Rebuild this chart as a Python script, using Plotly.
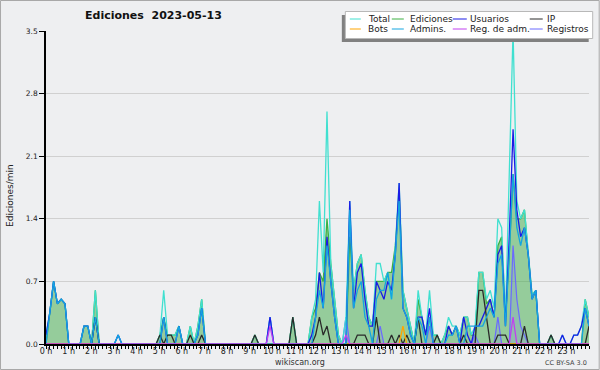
import plotly.graph_objects as go

# ---- data: 144 ten-minute bins, edits per minute ----
total = [
    .1, .35, .7, .45, .5, .45, 0, 0, 0, 0, .2, .2,
    0, .6, 0, 0, 0, 0, 0, .1, 0, 0, 0, 0,
    0, 0, 0, 0, 0, 0, .1, .6, .1, .1, .1, .2,
    0, 0, .2, 0, .2, .5, 0, 0, 0, 0, 0, 0,
    0, 0, 0, 0, 0, 0, 0, .1, 0, 0, 0, .3,
    0, 0, 0, 0, 0, .3, 0, 0, 0, 0, .3, .5,
    1.6, .8, 2.6, .9, .5, .1, 0, .3, 1.6, .6, .9, 1.0,
    .6, .3, .2, .9, .9, .7, .8, .5, 1.1, 1.8, .6, .4,
    .2, 0, .6, .3, .1, .6, .1, .1, 0, .1, .3, .2,
    .2, .1, .3, .3, .1, .2, .8, .8, .5, .6, .4, 1.4,
    1.3, .3, 1.9, 3.5, 1.6, 1.4, 1.5, 1.0, .55, .6, 0, 0,
    0, .1, 0, 0, .1, 0, 0, .1, .1, .2, .5, .3,
]
ediciones = [
    0, .35, .7, .45, .5, .45, 0, 0, 0, 0, .2, .2,
    0, .6, 0, 0, 0, 0, 0, 0, 0, 0, 0, 0,
    0, 0, 0, 0, 0, 0, .1, .3, .1, .1, .1, .2,
    0, 0, .2, 0, .2, .5, 0, 0, 0, 0, 0, 0,
    0, 0, 0, 0, 0, 0, 0, .1, 0, 0, 0, 0,
    0, 0, 0, 0, 0, .3, 0, 0, 0, 0, .3, .4,
    .8, .7, 1.4, .9, .5, .1, 0, 0, 1.2, .6, .9, 1.0,
    .6, .3, .2, .7, .7, .7, .8, .8, 1.1, 1.7, .6, .4,
    .2, 0, .5, .3, .1, .3, .1, .1, 0, .1, .2, .1,
    .2, .1, .3, .3, .1, .1, .8, .8, .45, .5, .3, 1.1,
    1.2, .3, 1.0, 1.9, 1.4, 1.4, 1.5, 1.0, .55, .6, 0, 0,
    0, .1, 0, 0, 0, 0, 0, 0, 0, 0, .5, .3,
]
usuarios = [
    .1, .35, .7, .45, .5, .45, 0, 0, 0, 0, .2, .2,
    0, .3, 0, 0, 0, 0, 0, .1, 0, 0, 0, 0,
    0, 0, 0, 0, 0, 0, 0, .3, 0, 0, 0, .2,
    0, 0, 0, 0, .1, .4, 0, 0, 0, 0, 0, 0,
    0, 0, 0, 0, 0, 0, 0, 0, 0, 0, 0, .3,
    0, 0, 0, 0, 0, 0, 0, 0, 0, 0, .1, .3,
    .8, .4, 1.2, .7, .3, 0, 0, 0, 1.6, .4, .8, .9,
    .5, .2, .2, .7, .6, .5, .7, .6, 1.0, 1.8, .4, .3,
    .1, 0, .3, .3, .1, .4, 0, 0, 0, 0, .2, .1,
    .2, 0, .3, .1, 0, .2, .2, .3, .4, .5, .3, 1.0,
    1.1, .2, 1.2, 2.4, 1.5, 1.2, 1.3, 1.0, .5, .6, 0, 0,
    0, 0, 0, 0, .1, 0, 0, .1, .1, .2, .4, .2,
]
ip = [
    0, 0, 0, 0, 0, 0, 0, 0, 0, 0, 0, 0,
    0, .3, 0, 0, 0, 0, 0, 0, 0, 0, 0, 0,
    0, 0, 0, 0, 0, 0, .1, 0, .1, .1, 0, 0,
    0, 0, .1, 0, 0, .1, 0, 0, 0, 0, 0, 0,
    0, 0, 0, 0, 0, 0, 0, .1, 0, 0, 0, 0,
    0, 0, 0, 0, 0, .3, 0, 0, 0, 0, 0, .1,
    .3, .1, .2, 0, 0, 0, 0, 0, 0, 0, .1, .1,
    .1, 0, 0, .3, 0, 0, 0, .1, 0, .1, 0, .1,
    0, 0, .3, 0, 0, 0, 0, .1, 0, 0, 0, 0,
    0, 0, .1, 0, 0, 0, .6, .6, .3, 0, 0, .1,
    .1, .1, 0, 0, 0, 0, .2, 0, 0, 0, 0, 0,
    0, .1, 0, 0, 0, 0, 0, 0, 0, 0, 0, .2,
]
bots = [0] * 94 + [.2] + [0] * 49
admins = [
    0, .35, .7, .45, .5, .45, 0, 0, 0, 0, .2, .2,
    0, .3, 0, 0, 0, 0, 0, .1, 0, 0, 0, 0,
    0, 0, 0, 0, 0, 0, 0, .3, 0, 0, 0, .2,
    0, 0, 0, 0, .1, .4, 0, 0, 0, 0, 0, 0,
    0, 0, 0, 0, 0, 0, 0, 0, 0, 0, 0, 0,
    0, 0, 0, 0, 0, 0, 0, 0, 0, 0, 0, .3,
    .6, .4, 1.1, .7, .3, 0, 0, 0, 1.5, .4, .6, .7,
    .3, .2, 0, .5, .6, .6, .8, .5, 1.0, 1.6, .4, .3,
    .1, 0, .3, .2, 0, .3, 0, 0, 0, 0, .1, .1,
    .2, 0, 0, .2, .2, .2, .2, .2, .3, .4, .3, .9,
    1.0, .2, 1.0, 1.9, 1.3, 1.1, 1.3, 1.0, .5, .6, 0, 0,
    0, 0, 0, 0, 0, 0, 0, 0, 0, 0, .4, .2,
]
reg_adm = [0] * 59 + [.2] + [0] * 19 + [.1] + [0] * 43 + [.3] + [0] * 20
registros = [
    0, 0, 0, 0, 0, 0, 0, 0, 0, 0, 0, 0,
    0, 0, 0, 0, 0, 0, 0, 0, 0, 0, 0, 0,
    0, 0, 0, 0, 0, 0, 0, 0, 0, 0, 0, 0,
    0, 0, 0, 0, 0, 0, 0, 0, 0, 0, 0, 0,
    0, 0, 0, 0, 0, 0, 0, 0, 0, 0, 0, .3,
    0, 0, 0, 0, 0, 0, 0, 0, 0, 0, 0, 0,
    0, 0, 0, 0, 0, 0, 0, .3, 0, 0, 0, 0,
    0, 0, 0, 0, .2, 0, 0, 0, 0, 0, 0, 0,
    0, 0, 0, 0, 0, .2, 0, 0, 0, 0, 0, 0,
    0, 0, 0, 0, 0, .1, 0, 0, 0, 0, 0, .3,
    0, 0, 0, 1.1, .5, .2, .1, 0, 0, 0, 0, 0,
    0, 0, 0, 0, 0, 0, 0, 0, 0, 0, 0, 0,
]
hour_labels = [f"{h} h" for h in range(24)]
y_ticks = [0.0, 0.7, 1.4, 2.1, 2.8, 3.5]

names = ["Total", "Ediciones", "Usuarios", "IP", "Bots", "Admins.", "Reg. de adm.", "Registros"]
colors = ["#40e0d0", "#3cb043", "#1a1ae6", "#2a2a2a", "#ffa500", "#14a5e0", "#c040f0", "#6a6aff"]
series = [total, ediciones, usuarios, ip, bots, admins, reg_adm, registros]

n = len(total)
hours = [i * 24 / (n - 1) for i in range(n)]

fig = go.Figure()
fig.add_trace(go.Scatter(x=hours, y=ediciones, mode="lines", fill="tozeroy",
                         fillcolor="rgba(60,170,70,0.5)",
                         line=dict(color=colors[1], width=1.3), showlegend=False))
fig.add_trace(go.Scatter(x=hours, y=registros, mode="lines", fill="tozeroy",
                         fillcolor="rgba(120,120,255,0.18)",
                         line=dict(color=colors[7], width=1.2), showlegend=False))
for idx in [0, 2, 3, 4, 5, 6]:
    fig.add_trace(go.Scatter(x=hours, y=series[idx], mode="lines",
                             line=dict(color=colors[idx], width=1.3), showlegend=False))

L, R, T, B = 46, 589.3, 31, 344
W, H = R - L, B - T
def xp(px): return (px - L) / W
def yp(py): return (B - py) / H

shapes = []
annotations = []
shapes.append(dict(type="rect", xref="paper", yref="paper",
                   x0=xp(0.5), x1=xp(599.5), y0=yp(369.5), y1=yp(0.5),
                   line=dict(color="#a8a8a8", width=1)))
shapes.append(dict(type="rect", xref="paper", yref="paper",
                   x0=xp(342), x1=xp(589), y0=yp(42), y1=yp(15),
                   fillcolor="#808080", line=dict(width=0), layer="above"))
shapes.append(dict(type="rect", xref="paper", yref="paper",
                   x0=xp(345.5), x1=xp(593), y0=yp(38.5), y1=yp(11.5),
                   fillcolor="white", line=dict(color="#b8b8b8", width=1), layer="above"))
line_x = [(350, 361), (392, 404), (453, 467), (530, 543)]
text_x = [366, 408, 468, 545]
rows_y = [19, 29]
for j, name in enumerate(names):
    r, c = divmod(j, 4)
    y = rows_y[r]
    shapes.append(dict(type="line", xref="paper", yref="paper",
                       x0=xp(line_x[c][0]), x1=xp(line_x[c][1]), y0=yp(y), y1=yp(y),
                       line=dict(color=colors[j], width=1), layer="above"))
    annotations.append(dict(text=name, xref="paper", yref="paper", x=xp(text_x[c]), y=yp(y),
                            xanchor="left", yanchor="middle", showarrow=False,
                            font=dict(family="DejaVu Sans", size=9, color="#222")))

annotations.append(dict(text="Ediciones\u00a0 2023-05-13", xref="paper", yref="paper",
                        x=xp(153.5), y=yp(16), xanchor="center", yanchor="middle", showarrow=False,
                        font=dict(family="DejaVu Sans", size=11, color="#111", weight="bold")))
annotations.append(dict(text="Ediciones/min", xref="paper", yref="paper",
                        x=xp(10), y=yp(196), xanchor="center", yanchor="middle", textangle=-90,
                        showarrow=False, font=dict(family="DejaVu Sans", size=9, color="#222")))
annotations.append(dict(text="wikiscan.org", xref="paper", yref="paper",
                        x=xp(300), y=yp(362), xanchor="center", yanchor="middle", showarrow=False,
                        font=dict(family="DejaVu Sans", size=8, color="#333")))
annotations.append(dict(text="CC BY-SA 3.0", xref="paper", yref="paper",
                        x=xp(589), y=yp(362.5), xanchor="right", yanchor="middle", showarrow=False,
                        font=dict(family="DejaVu Sans", size=6.5, color="#444")))

fig.update_layout(
    width=600, height=370,
    margin=dict(l=L, r=600 - R, t=T, b=370 - B),
    paper_bgcolor="#eeeff1", plot_bgcolor="#eeeff1",
    shapes=shapes, annotations=annotations,
    xaxis=dict(range=[0, 24], tickmode="array", tickvals=list(range(24)), ticktext=hour_labels,
               ticks="outside", ticklen=3, tickwidth=1, tickcolor="black",
               minor=dict(tickmode="array", tickvals=[i / 6 for i in range(145)],
                          ticks="outside", ticklen=3, tickwidth=1, tickcolor="black"),
               showgrid=False, zeroline=False, showline=True, linecolor="black", linewidth=1.5,
               tickfont=dict(family="DejaVu Sans", size=8, color="#222"),
               ticklabelstandoff=-4, fixedrange=True),
    yaxis=dict(range=[0, 3.5], tickmode="array", tickvals=y_ticks, tickformat=".1f",
               ticks="outside", ticklen=5, tickcolor="black",
               showgrid=True, gridcolor="#d0d0d0", gridwidth=1, zeroline=False,
               showline=True, linecolor="black", linewidth=1.5,
               tickfont=dict(family="DejaVu Sans", size=7.5, color="#222"), fixedrange=True),
)

fig.write_html("out.html", config={"displayModeBar": False},
               post_script="document.body.style.margin='0';document.body.style.padding='0';")
